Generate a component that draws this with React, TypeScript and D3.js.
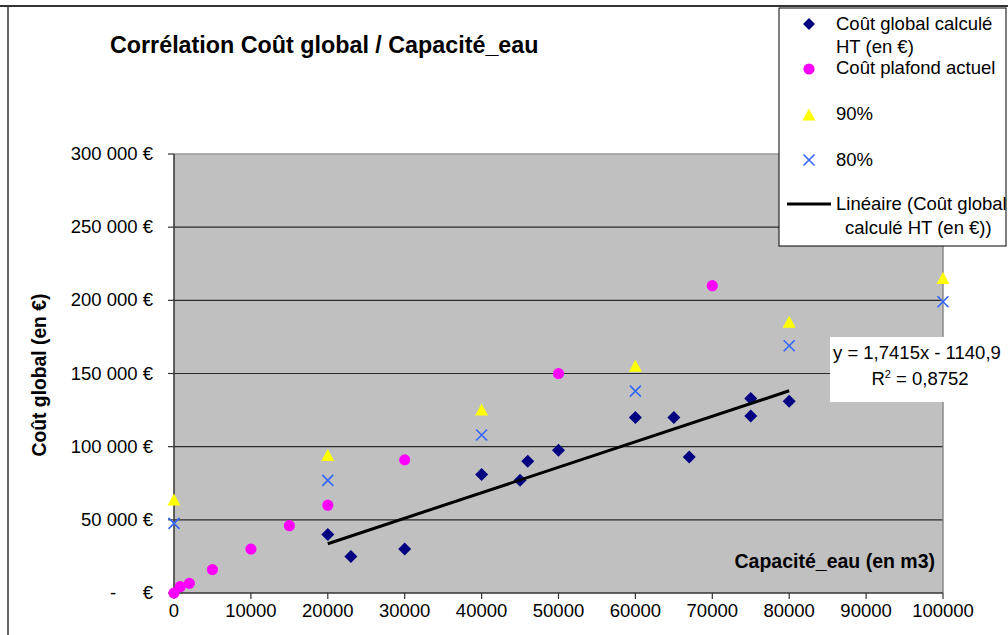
import React, { useEffect } from 'react';
import * as d3 from 'd3';

// Coût global calculé HT (en €)
const capGlobal = [20000, 23000, 30000, 40000, 45000, 46000, 50000, 60000, 65000, 67000, 75000, 75000, 80000];
const coutGlobal = [40000, 25000, 30000, 81000, 77000, 90000, 97500, 120000, 120000, 93000, 133000, 121000, 131000];

// Coût plafond actuel
const capPlafond = [0, 800, 2000, 5000, 10000, 15000, 20000, 30000, 50000, 70000];
const coutPlafond = [0, 4300, 6600, 16000, 30000, 46000, 60000, 91000, 150000, 210000];

// 90% / 80%
const capPct = [0, 20000, 40000, 60000, 80000, 100000];
const val90 = [63500, 94000, 125000, 155000, 185000, 215000];
const val80 = [47600, 77000, 108000, 138000, 169000, 199000];

// trend line (Linéaire)
const trendSlope = 1.7415;
const trendIntercept = -1140.9;

const xTicks = [0, 10000, 20000, 30000, 40000, 50000, 60000, 70000, 80000, 90000, 100000];
const yTicks = [0, 50000, 100000, 150000, 200000, 250000, 300000];

const FONT = "'Liberation Sans', Arial, sans-serif";
const FS = 18.5;

const margin = { left: 174, right: 65, top: 154, bottom: 42 };
const W = 1008;
const H = 635;

const fmtEuro = (v: number) => d3.format(',')(v).replace(/,/g, ' ') + ' €';

const Diamond = ({ x, y, s = 6.5, fill = '#000080' }: { x: number; y: number; s?: number; fill?: string }) => (
  <path d={`M${x},${y - s}L${x + s},${y}L${x},${y + s}L${x - s},${y}Z`} fill={fill} />
);
const Triangle = ({ x, y, s = 6.5 }: { x: number; y: number; s?: number }) => (
  <path d={`M${x},${y - s}L${x + s},${y + s - 1}L${x - s},${y + s - 1}Z`} fill="#ffff00" />
);
const Cross = ({ x, y, s = 5.5 }: { x: number; y: number; s?: number }) => (
  <path d={`M${x - s},${y - s}L${x + s},${y + s}M${x - s},${y + s}L${x + s},${y - s}`} stroke="#3366ff" strokeWidth={1.6} fill="none" />
);

export default function App() {
  useEffect(() => {
    document.body.style.margin = '0';
  }, []);

  const x = d3.scaleLinear().domain([0, 100000]).range([margin.left, W - margin.right]);
  const y = d3.scaleLinear().domain([0, 300000]).range([H - margin.bottom, margin.top]);

  const x0 = x(0), x1 = x(100000), y0 = y(0), y1 = y(300000);
  const [tMin, tMax] = d3.extent(capGlobal) as [number, number];
  const trend = d3.line<number>().x(d => x(d)).y(d => y(trendSlope * d + trendIntercept));

  return (
    <svg width={W} height={H} style={{ position: 'absolute', left: 0, top: 0 }} fontFamily={FONT}>
      <rect x={0} y={0} width={W} height={H} fill="#fff" />
      {/* outer frame */}
      <line x1={0} x2={W} y1={6} y2={6} stroke="#333" strokeWidth={2} />
      <line x1={8} x2={8} y1={6} y2={H} stroke="#333" strokeWidth={1.5} />

      <text x={110} y={53} fontSize={23.3} fontWeight="bold" fill="#000">Corrélation Coût global / Capacité_eau</text>

      {/* plot area */}
      <rect x={x0} y={y1} width={x1 - x0} height={y0 - y1} fill="#c0c0c0" />
      {yTicks.filter(t => t > 0 && t < 300000).map(t => (
        <line key={t} x1={x0} x2={x1} y1={y(t)} y2={y(t)} stroke="#2a2a2a" strokeWidth={1.2} />
      ))}
      <line x1={x0} x2={x1} y1={y1} y2={y1} stroke="#9a9a9a" strokeWidth={1.5} />
      <line x1={x1} x2={x1} y1={y1} y2={y0} stroke="#8a8a8a" strokeWidth={1.5} />
      <line x1={x0} x2={x1} y1={y0} y2={y0} stroke="#333" strokeWidth={1.5} />
      <line x1={x0} x2={x0} y1={y1} y2={y0} stroke="#333" strokeWidth={1.5} />

      {/* y axis */}
      {yTicks.map(t => (
        <g key={t}>
          <line x1={x0 - 6} x2={x0} y1={y(t)} y2={y(t)} stroke="#333" strokeWidth={1.2} />
          {t === 0 ? (
            <>
              <text x={113} y={y(t) + 6} fontSize={FS} textAnchor="middle">-</text>
              <text x={153} y={y(t) + 6} fontSize={FS} textAnchor="end">€</text>
            </>
          ) : (
            <text x={153} y={y(t) + 6} fontSize={FS} textAnchor="end">{fmtEuro(t)}</text>
          )}
        </g>
      ))}
      <text transform={`translate(46,375) rotate(-90)`} fontSize={19.3} fontWeight="bold" textAnchor="middle">Coût global (en €)</text>

      {/* x axis */}
      {xTicks.map(t => (
        <g key={t}>
          <line x1={x(t)} x2={x(t)} y1={y0} y2={y0 + 6} stroke="#333" strokeWidth={1.2} />
          <text x={x(t)} y={617} fontSize={FS} textAnchor="middle">{t}</text>
        </g>
      ))}
      <text x={935} y={568} fontSize={19.5} fontWeight="bold" textAnchor="end">Capacité_eau (en m3)</text>

      {/* series */}
      {capPlafond.map((c, i) => (
        <circle key={'p' + i} cx={x(c)} cy={y(coutPlafond[i])} r={5.6} fill="#ff00ff" />
      ))}
      {capPct.map((c, i) => <Triangle key={'t' + i} x={x(c)} y={y(val90[i])} />)}
      {capPct.map((c, i) => <Cross key={'c' + i} x={x(c)} y={y(val80[i])} />)}
      {capGlobal.map((c, i) => <Diamond key={'d' + i} x={x(c)} y={y(coutGlobal[i])} />)}
      <path d={trend([tMin, tMax]) || ''} stroke="#000" strokeWidth={3} fill="none" />

      {/* equation label */}
      <rect x={830} y={337} width={W - 830} height={65} fill="#fff" />
      <text x={833} y={359} fontSize={FS}>y = 1,7415x - 1140,9</text>
      <text x={920} y={385} fontSize={FS} textAnchor="middle">
        R<tspan fontSize={11} dy={-7}>2</tspan><tspan dy={7}> = 0,8752</tspan>
      </text>

      {/* legend */}
      <rect x={779} y={8} width={227} height={238} fill="#fff" stroke="#000" strokeWidth={1} />
      <Diamond x={809} y={24} s={6} />
      <text x={836} y={30} fontSize={FS}>Coût global calculé</text>
      <text x={836} y={53} fontSize={FS}>HT (en €)</text>
      <circle cx={809} cy={69} r={5.6} fill="#ff00ff" />
      <text x={836} y={74} fontSize={FS}>Coût plafond actuel</text>
      <Triangle x={809} y={115} />
      <text x={836} y={120} fontSize={FS}>90%</text>
      <Cross x={809} y={160} />
      <text x={836} y={166} fontSize={FS}>80%</text>
      <line x1={787} x2={831} y1={204} y2={204} stroke="#000" strokeWidth={3} />
      <text x={836} y={210} fontSize={FS}>Linéaire (Coût global</text>
      <text x={845} y={234} fontSize={FS}>calculé HT (en €))</text>
    </svg>
  );
}
